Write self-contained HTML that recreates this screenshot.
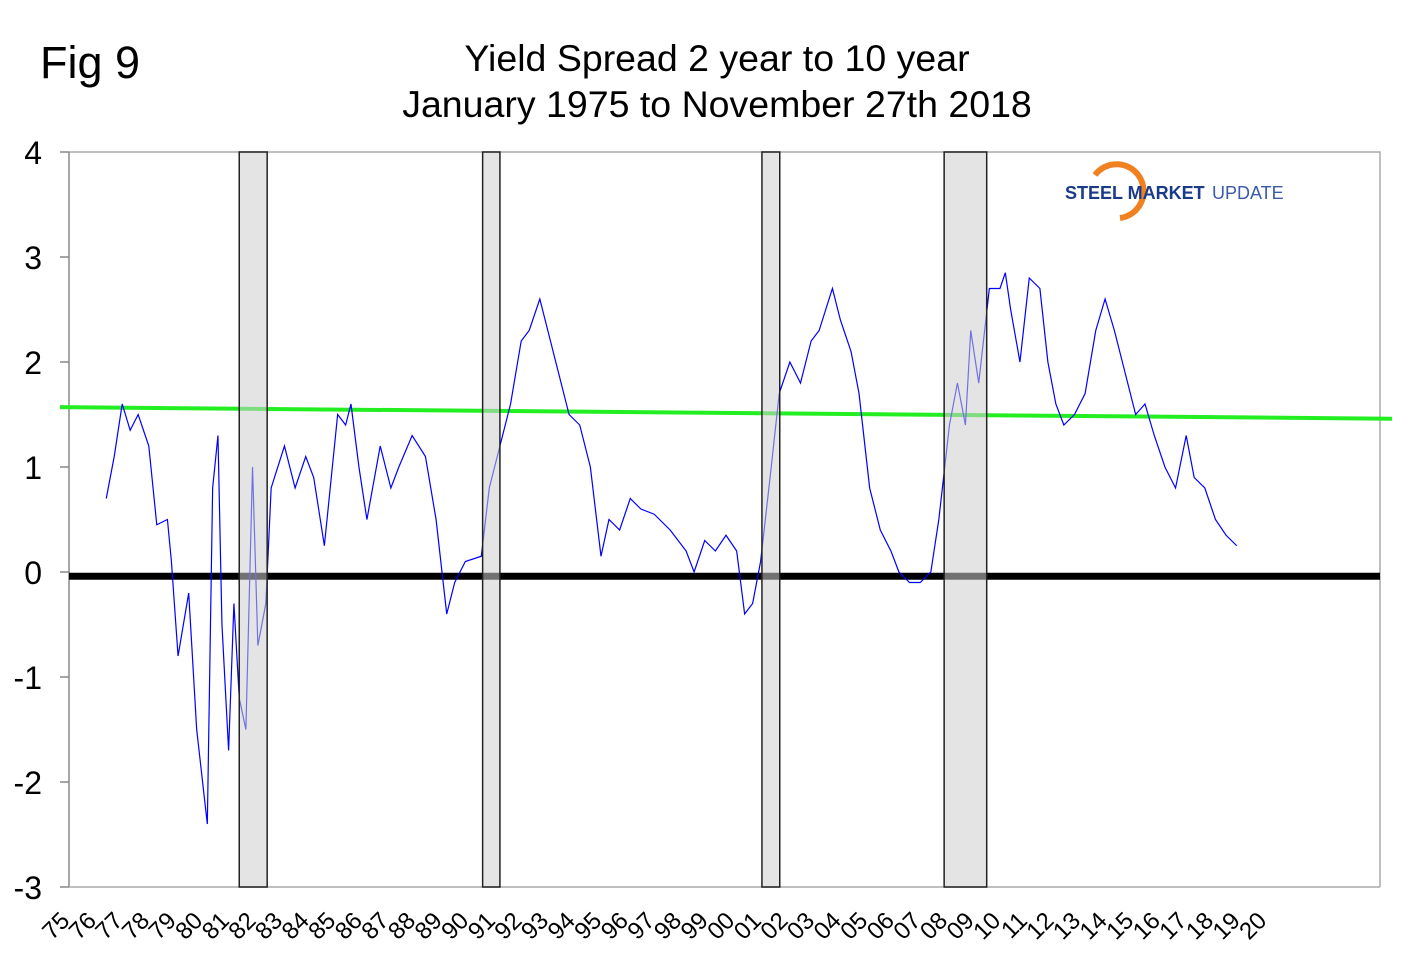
<!DOCTYPE html>
<html><head><meta charset="utf-8"><style>
body{margin:0;background:#fff;}
svg{display:block;font-family:"Liberation Sans",Arial,sans-serif;}
</style></head><body>
<svg id="c" width="1420" height="973">
<text x="40" y="78" font-size="45">Fig 9</text>
<text x="717" y="71" font-size="37.5" text-anchor="middle">Yield Spread 2 year to 10 year</text>
<text x="717" y="117" font-size="37.5" text-anchor="middle">January 1975 to November 27th 2018</text>
<g id="plot"></g>
<g>
<path d="M1095,175 A27,27 0 1 1 1120,218" fill="none" stroke="#f08020" stroke-width="6"/>
<text x="1065" y="199" font-size="18" font-weight="bold" fill="#1a3a8a">STEEL MARKET</text>
<text x="1212" y="199" font-size="18" fill="#3a5aaa">UPDATE</text>
</g>
</svg>
<script>
const years=[1976.4,1976.7,1977.0,1977.3,1977.6,1978.0,1978.3,1978.7,1978.85,1979.1,1979.5,1979.8,1980.2,1980.4,1980.6,1980.75,1981.0,1981.2,1981.4,1981.65,1981.9,1982.1,1982.4,1982.6,1983.1,1983.5,1983.9,1984.2,1984.6,1985.1,1985.4,1985.6,1985.9,1986.2,1986.7,1987.1,1987.4,1987.9,1988.4,1988.8,1989.2,1989.5,1989.9,1990.5,1990.8,1991.2,1991.6,1992.0,1992.3,1992.7,1993.1,1993.5,1993.8,1994.2,1994.6,1995.0,1995.3,1995.7,1996.1,1996.5,1997.0,1997.6,1998.2,1998.5,1998.9,1999.3,1999.7,2000.1,2000.4,2000.7,2001.0,2001.4,2001.7,2002.1,2002.5,2002.9,2003.2,2003.7,2004.0,2004.4,2004.7,2005.1,2005.5,2005.9,2006.2,2006.6,2007.0,2007.4,2007.7,2008.1,2008.4,2008.7,2008.9,2009.2,2009.6,2010.0,2010.2,2010.4,2010.75,2011.1,2011.5,2011.8,2012.1,2012.4,2012.8,2013.2,2013.6,2013.95,2014.3,2014.7,2015.1,2015.45,2015.8,2016.2,2016.6,2017.0,2017.3,2017.7,2018.1,2018.5,2018.9];
const spread=[0.7,1.1,1.6,1.35,1.5,1.2,0.45,0.5,0.1,-0.8,-0.2,-1.5,-2.4,0.8,1.3,-0.5,-1.7,-0.3,-1.2,-1.5,1.0,-0.7,-0.3,0.8,1.2,0.8,1.1,0.9,0.25,1.5,1.4,1.6,1.0,0.5,1.2,0.8,1.0,1.3,1.1,0.5,-0.4,-0.1,0.1,0.15,0.8,1.2,1.6,2.2,2.3,2.6,2.2,1.8,1.5,1.4,1.0,0.15,0.5,0.4,0.7,0.6,0.55,0.4,0.2,0.0,0.3,0.2,0.35,0.2,-0.4,-0.3,0.1,1.0,1.7,2.0,1.8,2.2,2.3,2.7,2.4,2.1,1.7,0.8,0.4,0.2,0.0,-0.1,-0.1,0.0,0.5,1.4,1.8,1.4,2.3,1.8,2.7,2.7,2.85,2.5,2.0,2.8,2.7,2.0,1.6,1.4,1.5,1.7,2.3,2.6,2.3,1.9,1.5,1.6,1.3,1.0,0.8,1.3,0.9,0.8,0.5,0.35,0.25];
const recStart=[1981.4,1990.55,2001.05,2007.9];
const recEnd=[1982.45,1991.2,2001.72,2009.5];
const yTicks=[4,3,2,1,0,-1,-2,-3];
const xTickLabels=['75','76','77','78','79','80','81','82','83','84','85','86','87','88','89','90','91','92','93','94','95','96','97','98','99','00','01','02','03','04','05','06','07','08','09','10','11','12','13','14','15','16','17','18','19','20'];
const zeroRef=[-0.04];
const trend=[1.57,1.46];
const X0=69,X1=1380,Y0=152,Y1=887;
const xs=y=>X0+(y-1975)*26.6;
const ys=v=>Y0+(4-v)*(Y1-Y0)/7;
const NS='http://www.w3.org/2000/svg';
const g=document.getElementById('plot');
function mk(t,a){const e=document.createElementNS(NS,t);for(const k in a)e.setAttribute(k,a[k]);g.appendChild(e);return e;}
let e=mk('path',{d:`M${X0},${Y0}H${X1}V${Y1}`,fill:'none',stroke:'#aaa','stroke-width':1.5});


e=mk('line',{x1:X0,y1:Y0,x2:X0,y2:Y1,stroke:'#888','stroke-width':1.5});


e=mk('line',{x1:X0,y1:Y1,x2:X1,y2:Y1,stroke:'#aaa','stroke-width':1.5});


yTicks.forEach(v=>{
 let t=mk('line',{x1:X0-9,x2:X0,y1:ys(v),y2:ys(v),stroke:'#888','stroke-width':1.5});
 
 
 let l=mk('text',{x:42,y:ys(v)+12,'font-size':32,'text-anchor':'end'});l.textContent=v;
 
 
});
xTickLabels.forEach((s,i)=>{
 const x=xs(1975+i)+2,y=922;
 let l=mk('text',{x:x,y:y,'font-size':24,'text-anchor':'end',transform:`rotate(-45 ${x} ${y})`});l.textContent=s;
 
 
});
e=mk('line',{x1:X0,x2:X1,y1:ys(zeroRef[0]),y2:ys(zeroRef[0]),stroke:'#000','stroke-width':7});


e=mk('line',{x1:60,x2:1392,y1:ys(trend[0]),y2:ys(trend[1]),stroke:'#22ee22','stroke-width':4});


e=mk('polyline',{points:years.map((y,i)=>xs(y)+','+ys(spread[i])).join(' '),fill:'none',stroke:'#0000ff','stroke-width':1.2});


recStart.forEach((s,i)=>{
 let r=mk('rect',{x:xs(s),y:Y0,width:xs(recEnd[i])-xs(s),height:Y1-Y0,fill:'rgba(205,205,205,0.55)',stroke:'#222','stroke-width':1.5});
 
 
});
</script>
</body></html>
